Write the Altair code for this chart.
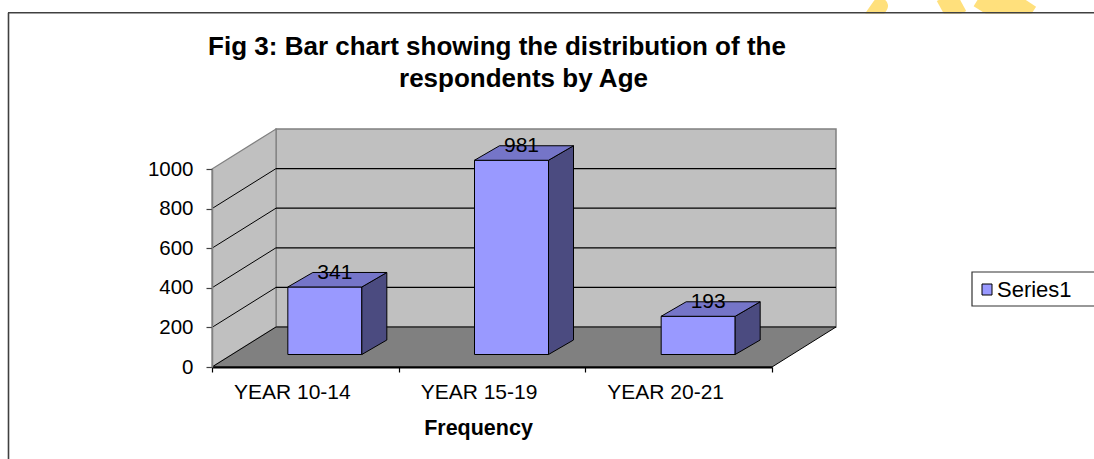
import json

import altair as alt
import pandas as pd

# ---- data -------------------------------------------------------------
categories = ["YEAR 10-14", "YEAR 15-19", "YEAR 20-21"]
frequencies = [341, 981, 193]
y_ticks = [0, 200, 400, 600, 800, 1000]
series_name = "Series1"
title_lines = ["Fig 3: Bar chart showing the distribution of the", "respondents by Age"]
x_title = "Frequency"

# ---- geometry of the pseudo 3-D box ----------------------------------
W, H = 560, 198                      # front plane of the plot
N = len(categories)
Y_MAX = y_ticks[-1]
ux = N / W                           # x data units per pixel
uy = Y_MAX / H                       # y data units per pixel

depth_x, depth_y = 64 * ux, 40 * uy  # floor / wall depth
front_x, front_y = 19.5 * ux, 12.5 * uy  # bar front set back from the floor edge
bar_dx, bar_dy = 25 * ux, 14.5 * uy  # bar depth
half_w = 37 * ux                     # half bar width

FONT = "Liberation Sans"
FRONT = "#9999FF"
TOP = "#7575C8"
SIDE = "#4B4B80"
WALL = "#C0C0C0"
FLOOR = "#808080"

xs = alt.Scale(domain=[0, N], nice=False, zero=False)
ys = alt.Scale(domain=[0, Y_MAX], nice=False, zero=False)

x_tick_values = sorted(set([float(i) for i in range(N + 1)] + [i + 0.5 for i in range(N)]))
label_expr = f"datum.value % 1 ? {json.dumps(categories)}[floor(datum.value)] : ''"

# the same axis definitions are used by every layer so they merge into one
X_AXIS = alt.Axis(
    values=x_tick_values, labelExpr=label_expr, title=x_title,
    domainColor="black", domainWidth=2,
    tickColor="black", tickSize=5, tickWidth=1.2,
    tickOpacity={"condition": {"test": "datum.value % 1 === 0", "value": 1}, "value": 0},
    labelFont=FONT, labelFontSize=21, labelColor="black",
    labelBaseline="alphabetic", labelPadding=26, labelOffset=-13.5,
    labelOverlap=False, labelFlush=False, labelBound=False,
    titleFont=FONT, titleFontSize=21.5, titleFontWeight="bold", titleColor="black",
    titleX=266, titleY=67, titleBaseline="alphabetic", titleAlign="center",
    grid=False, zindex=1)
Y_AXIS = alt.Axis(
    values=y_ticks, format="d", title=None, grid=False,
    domainColor="#808080", domainWidth=1.5,
    tickColor="#404040", tickSize=6, tickWidth=1.2,
    labelFont=FONT, labelFontSize=20.5, labelColor="black", labelPadding=13,
    labelFlush=False, labelOverlap=False, zindex=1)


def X(field):
    return alt.X(field, scale=xs, axis=X_AXIS)


def Y(field):
    return alt.Y(field, scale=ys, axis=Y_AXIS)


# ---- tables built from the arrays ------------------------------------
front_rows, side_rows, top_rows = [], [], []
for i, (cat, v) in enumerate(zip(categories, frequencies)):
    x0 = i + 0.5 - half_w + front_x
    x1 = i + 0.5 + half_w + front_x
    front_rows.append(dict(bar=cat, x0=x0, x1=x1, y0=front_y, y1=v + front_y,
                           cx=i + 0.5 + front_x, v=v))
    side_rows += [dict(bar=cat, x=x1, lo=front_y, hi=v + front_y),
                  dict(bar=cat, x=x1 + bar_dx, lo=front_y + bar_dy, hi=v + front_y + bar_dy)]
    top_rows += [dict(bar=cat, y=v + front_y, l=x0, r=x1),
                 dict(bar=cat, y=v + front_y + bar_dy, l=x0 + bar_dx, r=x1 + bar_dx)]
front_df = pd.DataFrame(front_rows)
side_df = pd.DataFrame(side_rows)
top_df = pd.DataFrame(top_rows)

back_df = pd.DataFrame([dict(x0=depth_x, x1=N + depth_x, y0=depth_y, y1=Y_MAX + depth_y)])
left_df = pd.DataFrame([dict(x=0, lo=0, hi=Y_MAX), dict(x=depth_x, lo=depth_y, hi=Y_MAX + depth_y)])
floor_df = pd.DataFrame([dict(y=0, l=0, r=N), dict(y=depth_y, l=depth_x, r=N + depth_x)])
inner = y_ticks[1:-1]
grid_df = pd.DataFrame(dict(v=inner, vb=[t + depth_y for t in inner]))
grid_df["x0"], grid_df["xd"], grid_df["xe"] = 0.0, depth_x, N + depth_x

# ---- page decoration: frame and watermark ----------------------------
one = pd.DataFrame({"k": [0]})


def seg(x1, y1, x2, y2, color, width, cap="butt"):
    return alt.Chart(one).mark_rule(color=color, strokeWidth=width, strokeCap=cap).encode(
        x=alt.value(x1 - 212), y=alt.value(y1 - 169),
        x2=alt.value(x2 - 212), y2=alt.value(y2 - 169))


def box(x1, y1, x2, y2, **style):
    return alt.Chart(one).mark_rect(**style).encode(
        x=alt.value(x1 - 212), x2=alt.value(x2 - 212),
        y=alt.value(y1 - 169), y2=alt.value(y2 - 169))


mark_yellow = "#FFE07C"
watermark = [
    seg(880, 6, 873, 16, mark_yellow, 16, "round"),
    seg(946, -4, 957, 16, mark_yellow, 21),
    seg(980, -4, 1012, 16, mark_yellow, 24),
    seg(1000, -4, 1030, 16, mark_yellow, 22),
]
cover = box(840, 13.5, 1094, 45, color="white")
frame = [
    seg(8, 12.7, 1094, 12.7, "#404040", 1.6),
    seg(8.5, 12.7, 8.5, 459, "#404040", 1.6),
]

# ---- walls, floor and grid -------------------------------------------
back = alt.Chart(back_df).mark_rect(fill=WALL, stroke="#808080", strokeWidth=1.5).encode(
    x=X("x0:Q"), x2="x1:Q", y=Y("y0:Q"), y2="y1:Q")

left = alt.Chart(left_df).mark_area(orient="vertical", fill=WALL, stroke="#808080",
                                    strokeWidth=1.2).encode(
    x=X("x:Q"), y=Y("hi:Q"), y2="lo:Q")

floor = alt.Chart(floor_df).mark_area(orient="horizontal", fill=FLOOR, stroke="black",
                                      strokeWidth=1).encode(
    y=Y("y:Q"), x=X("l:Q"), x2="r:Q")

grid_side = alt.Chart(grid_df).mark_rule(color="black", strokeWidth=1).encode(
    x=X("x0:Q"), x2="xd:Q", y=Y("v:Q"), y2="vb:Q")

grid_back = alt.Chart(grid_df).mark_rule(color="black", strokeWidth=1.3).encode(
    x=X("xd:Q"), x2="xe:Q", y=Y("vb:Q"), y2="vb:Q")

# ---- bars --------------------------------------------------------------
fronts = alt.Chart(front_df).mark_rect(fill=FRONT, stroke="black", strokeWidth=1).encode(
    x=X("x0:Q"), x2="x1:Q", y=Y("y0:Q"), y2="y1:Q")

sides = alt.Chart(side_df).mark_area(orient="vertical", fill=SIDE, stroke="black",
                                     strokeWidth=1).encode(
    x=X("x:Q"), y=Y("hi:Q"), y2="lo:Q", detail="bar:N")

tops = alt.Chart(top_df).mark_area(orient="horizontal", fill=TOP, stroke="black",
                                   strokeWidth=1).encode(
    y=Y("y:Q"), x=X("l:Q"), x2="r:Q", detail="bar:N")

labels = alt.Chart(front_df).mark_text(font=FONT, fontSize=21, color="black", align="center",
                                       baseline="alphabetic", dx=10, dy=-8).encode(
    x=X("cx:Q"), y=Y("y1:Q"), text="v:Q")

# ---- legend --------------------------------------------------------------
legend_box = box(972, 272, 1110, 306, fill="white", stroke="#333333", strokeWidth=1.2)
legend_swatch = box(982, 284, 992, 295, fill=FRONT, stroke="black", strokeWidth=1)
legend_text = alt.Chart(pd.DataFrame({"s": [series_name]})).mark_text(
    font=FONT, fontSize=22, color="black", align="left", baseline="alphabetic").encode(
    x=alt.value(997 - 212), y=alt.value(297 - 169), text="s:N")

# ---- title -----------------------------------------------------------
title1 = alt.Chart(pd.DataFrame({"t": [title_lines[0]]})).mark_text(
    font=FONT, fontSize=26, fontWeight="bold", color="black", align="center",
    baseline="alphabetic").encode(x=alt.value(497 - 212), y=alt.value(54.5 - 169), text="t:N")
title2 = alt.Chart(pd.DataFrame({"t": [title_lines[1]]})).mark_text(
    font=FONT, fontSize=26, fontWeight="bold", color="black", align="center",
    baseline="alphabetic").encode(x=alt.value(523.5 - 212), y=alt.value(87 - 169), text="t:N")

chart = alt.layer(
    back, left, floor, grid_side, grid_back,
    fronts, sides, tops, labels,
    *watermark, cover, *frame,
    legend_box, legend_swatch, legend_text, title1, title2,
).properties(
    width=W, height=H,
    padding={"left": 212, "top": 169, "right": 322, "bottom": 92},
    autosize=alt.AutoSizeParams(type="none"),
    background="white",
).configure_view(stroke="transparent").configure(font=FONT)

chart.save("out.html", embed_options={"renderer": "svg", "actions": False})
